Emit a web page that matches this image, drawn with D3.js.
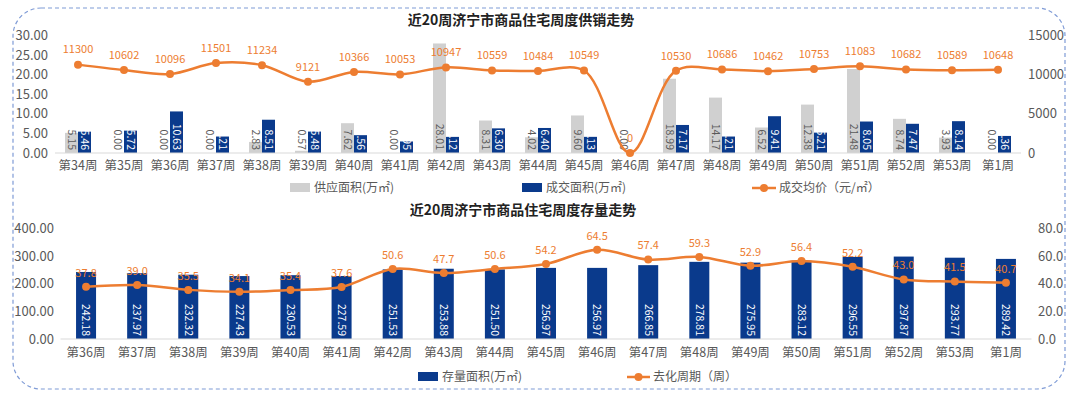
<!DOCTYPE html>
<html><head><meta charset="utf-8">
<script src="https://cdn.jsdelivr.net/npm/d3@7"></script>
<style>
html,body{margin:0;padding:0;background:#fff;}
svg text{font-family:"Noto Sans CJK SC","Noto Sans",sans-serif;}
</style></head>
<body>
<svg id="c" width="1080" height="397"></svg>
<script>
// ---- Top chart data ----
const weeksTop = ["第34周","第35周","第36周","第37周","第38周","第39周","第40周","第41周","第42周","第43周","第44周","第45周","第46周","第47周","第48周","第49周","第50周","第51周","第52周","第53周","第1周"];
const supplyArea = [5.15,0.00,0.00,0.00,2.83,0.57,7.62,0.00,28.01,8.31,4.02,9.60,0.00,18.99,14.17,6.52,12.38,21.48,8.74,3.93,0.00];
const dealArea = [5.46,5.72,10.63,4.21,8.51,5.48,4.56,2.95,4.12,6.30,6.40,4.13,0.00,7.17,4.21,9.41,5.21,8.05,7.47,8.14,4.36];
const avgPrice = [11300,10602,10096,11501,11234,9121,10366,10053,10947,10559,10484,10549,0,10530,10686,10462,10753,11083,10682,10589,10648];
const topLeftTicks = [0,5,10,15,20,25,30];
const topRightTicks = [0,5000,10000,15000];

// ---- Bottom chart data ----
const weeksBot = ["第36周","第37周","第38周","第39周","第40周","第41周","第42周","第43周","第44周","第45周","第46周","第47周","第48周","第49周","第50周","第51周","第52周","第53周","第1周"];
const stockArea = [242.18,237.97,232.32,227.43,230.53,227.59,251.53,253.88,251.50,256.97,256.97,266.85,278.81,275.95,283.12,296.55,297.87,293.77,289.42];
const cyclePeriod = [37.8,39.0,35.5,34.1,35.4,37.6,50.6,47.7,50.6,54.2,64.5,57.4,59.3,52.9,56.4,52.2,43.0,41.5,40.7];
const botLeftTicks = [0,100,200,300,400];
const botRightTicks = [0,20,40,60,80];

const GRAY="#D0D0D0", NAVY="#0A3A8C", ORANGE="#ED7D31", TXT="#595959";
const svg = d3.select("#c");

// border
svg.append("rect").attr("x",13).attr("y",8).attr("width",1052).attr("height",381)
  .attr("rx",28).attr("ry",28).attr("fill","none").attr("stroke","#7F9BD6")
  .attr("stroke-width",1.2).attr("stroke-dasharray","4,3");

function drawAxes(g, x, yL, yR, lt, rt, lfmt, rfmt, lx, rx, labY){
  g.append("line").attr("x1",x.range()[0]).attr("x2",x.range()[1])
    .attr("y1",yL(0)).attr("y2",yL(0)).attr("stroke","#D9D9D9").attr("stroke-width",1);
  g.selectAll(null).data(lt).join("text").attr("x",lx).attr("y",d=>yL(d)).attr("dy","0.35em")
    .attr("text-anchor","end").attr("font-size",13).attr("fill",TXT).text(lfmt);
  g.selectAll(null).data(rt).join("text").attr("x",rx).attr("y",d=>yR(d)).attr("dy","0.35em")
    .attr("text-anchor","start").attr("font-size",13).attr("fill",TXT).text(rfmt);
  g.selectAll(null).data(x.domain()).join("text").attr("x",d=>x(d)+x.bandwidth()/2).attr("y",labY)
    .attr("dy","0.35em").attr("text-anchor","middle").attr("font-size",12.5).attr("fill",TXT).text(d=>d);
}

function barLabel(g, cx, base, txt, color){
  g.append("text").attr("transform",`translate(${cx},${base-3}) rotate(90)`)
    .attr("text-anchor","end").attr("dy","0.35em").attr("font-size",10.5).attr("fill",color).text(txt);
}

// ===== Top chart =====
{
  const g = svg.append("g");
  const x = d3.scaleBand().domain(weeksTop).range([55,1021]);
  const yL = d3.scaleLinear().domain([0,30]).range([153,35.7]);
  const yR = d3.scaleLinear().domain([0,15000]).range([153,35.7]);
  g.append("text").attr("x",521).attr("y",20).attr("dy","0.35em").attr("text-anchor","middle")
    .attr("font-size",14).attr("font-weight","bold").attr("fill","#222").text("近20周济宁市商品住宅周度供销走势");
  const bw = 13;
  weeksTop.forEach((w,i)=>{
    const c = x(w)+x.bandwidth()/2;
    g.append("rect").attr("x",c-bw).attr("width",bw).attr("y",yL(supplyArea[i])).attr("height",yL(0)-yL(supplyArea[i])).attr("fill",GRAY);
    g.append("rect").attr("x",c).attr("width",bw).attr("y",yL(dealArea[i])).attr("height",yL(0)-yL(dealArea[i])).attr("fill",NAVY);
  });
  drawAxes(g,x,yL,yR,topLeftTicks,topRightTicks,d=>d.toFixed(2),d=>d,48,1028,166);
  weeksTop.forEach((w,i)=>{
    const c = x(w)+x.bandwidth()/2;
    barLabel(g,c-bw/2,yL(0),supplyArea[i].toFixed(2),"#5a5a5a");
    barLabel(g,c+bw/2,yL(0),dealArea[i].toFixed(2),"#fff");
  });
  const line = d3.line().x((d,i)=>x(weeksTop[i])+x.bandwidth()/2).y(d=>yR(d)).curve(d3.curveCatmullRom.alpha(0.5));
  g.append("path").attr("d",line(avgPrice)).attr("fill","none").attr("stroke",ORANGE).attr("stroke-width",2.5);
  g.selectAll(null).data(avgPrice).join("circle").attr("cx",(d,i)=>x(weeksTop[i])+x.bandwidth()/2).attr("cy",d=>yR(d)).attr("r",4).attr("fill",ORANGE);
  g.selectAll(null).data(avgPrice).join("text").attr("x",(d,i)=>x(weeksTop[i])+x.bandwidth()/2).attr("y",d=>yR(d)-15)
    .attr("dy","0.35em").attr("text-anchor","middle").attr("font-size",11).attr("fill",ORANGE).text(d=>d);
  // legend
  const ly=188;
  g.append("rect").attr("x",290).attr("y",ly-5).attr("width",20).attr("height",9).attr("fill",GRAY);
  g.append("text").attr("x",314).attr("y",ly).attr("dy","0.35em").attr("font-size",12).attr("fill",TXT).text("供应面积(万㎡)");
  g.append("rect").attr("x",522).attr("y",ly-5).attr("width",20).attr("height",9).attr("fill",NAVY);
  g.append("text").attr("x",546).attr("y",ly).attr("dy","0.35em").attr("font-size",12).attr("fill",TXT).text("成交面积(万㎡)");
  g.append("line").attr("x1",752).attr("x2",776).attr("y1",ly).attr("y2",ly).attr("stroke",ORANGE).attr("stroke-width",2.5);
  g.append("circle").attr("cx",764).attr("cy",ly).attr("r",4).attr("fill",ORANGE);
  g.append("text").attr("x",779).attr("y",ly).attr("dy","0.35em").attr("font-size",12).attr("fill",TXT).text("成交均价（元/㎡）");
}

// ===== Bottom chart =====
{
  const g = svg.append("g");
  const x = d3.scaleBand().domain(weeksBot).range([60.5,1031.5]);
  const yL = d3.scaleLinear().domain([0,400]).range([339,228.3]);
  const yR = d3.scaleLinear().domain([0,80]).range([339,228.3]);
  g.append("text").attr("x",523).attr("y",210).attr("dy","0.35em").attr("text-anchor","middle")
    .attr("font-size",14).attr("font-weight","bold").attr("fill","#222").text("近20周济宁市商品住宅周度存量走势");
  const bw = 20;
  weeksBot.forEach((w,i)=>{
    const c = x(w)+x.bandwidth()/2;
    g.append("rect").attr("x",c-bw/2).attr("width",bw).attr("y",yL(stockArea[i])).attr("height",yL(0)-yL(stockArea[i])).attr("fill",NAVY);
  });
  drawAxes(g,x,yL,yR,botLeftTicks,botRightTicks,d=>d.toFixed(2),d=>d.toFixed(1),54,1038,353);
  weeksBot.forEach((w,i)=>{
    const c = x(w)+x.bandwidth()/2;
    barLabel(g,c,yL(0),stockArea[i].toFixed(2),"#fff");
  });
  const line = d3.line().x((d,i)=>x(weeksBot[i])+x.bandwidth()/2).y(d=>yR(d)).curve(d3.curveCatmullRom.alpha(0.5));
  g.append("path").attr("d",line(cyclePeriod)).attr("fill","none").attr("stroke",ORANGE).attr("stroke-width",2.5);
  g.selectAll(null).data(cyclePeriod).join("circle").attr("cx",(d,i)=>x(weeksBot[i])+x.bandwidth()/2).attr("cy",d=>yR(d)).attr("r",4).attr("fill",ORANGE);
  g.selectAll(null).data(cyclePeriod).join("text").attr("x",(d,i)=>x(weeksBot[i])+x.bandwidth()/2).attr("y",d=>yR(d)-14)
    .attr("dy","0.35em").attr("text-anchor","middle").attr("font-size",11).attr("fill",ORANGE).text(d=>d.toFixed(1));
  const ly=377;
  g.append("rect").attr("x",418).attr("y",ly-5).attr("width",20).attr("height",9).attr("fill",NAVY);
  g.append("text").attr("x",442).attr("y",ly).attr("dy","0.35em").attr("font-size",12).attr("fill",TXT).text("存量面积(万㎡)");
  g.append("line").attr("x1",627).attr("x2",650).attr("y1",ly).attr("y2",ly).attr("stroke",ORANGE).attr("stroke-width",2.5);
  g.append("circle").attr("cx",638.5).attr("cy",ly).attr("r",4).attr("fill",ORANGE);
  g.append("text").attr("x",653).attr("y",ly).attr("dy","0.35em").attr("font-size",12).attr("fill",TXT).text("去化周期（周）");
}
</script>
</body></html>
